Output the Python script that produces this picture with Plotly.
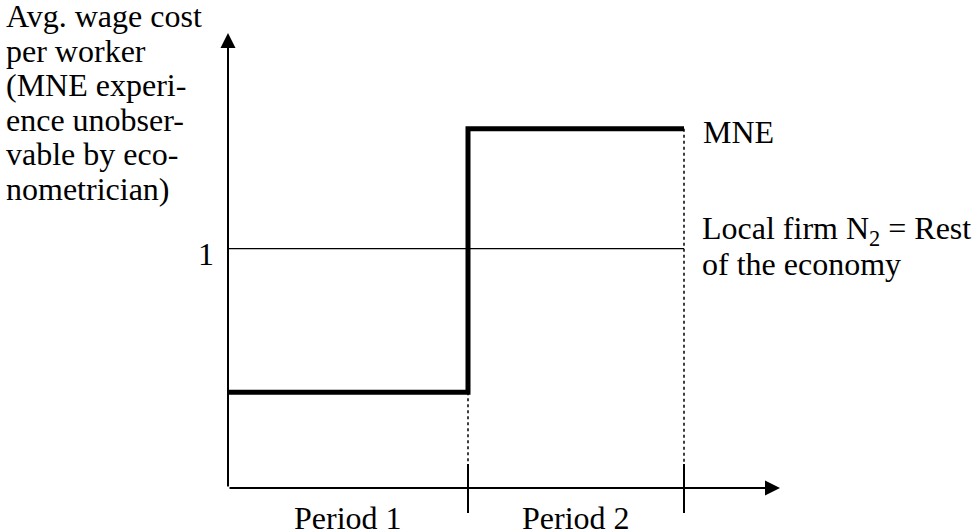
import plotly.graph_objects as go

# ---------------- data ----------------
periods = ["Period 1", "Period 2"]
period_bounds = [0, 10, 19]          # start, switch point, end of period 2
mne_wage = [0.4, 1.5]                # MNE avg. wage cost: period 1, period 2
local_wage = [1.0, 1.0]              # local firm N2 = rest of the economy
y_tick_vals = [1]
y_tick_text = ["1"]
x_axis_end = 23
y_axis_end = 1.9
y_title_lines = ["Avg. wage cost", "per worker", "(MNE experi-",
                 "ence unobser-", "vable by eco-", "nometrician)"]
mne_label = "MNE"
local_label_lines = ["Local firm N<sub>2</sub> = Rest", "of the economy"]

# ---------------- layout geometry ----------------
W, H = 974, 531
ML = 228
MT = 33
MR = W - 780
MB = 0
PW, PH = W - ML - MR, H - MT - MB
px_per_unit_y = (488 - 33) / y_axis_end
y_min = y_axis_end - PH / px_per_unit_y
tick_up = 24 / px_per_unit_y
tick_down = 25 / px_per_unit_y

def px_x(px):
    return (px - ML) / PW

def px_y(py):
    return (H - MB - py) / PH

FS = 32
FONT = dict(family="Liberation Serif, Times New Roman, serif", size=FS, color="black")

t0, t1, t2 = period_bounds
fig = go.Figure()

# local firm line
fig.add_trace(go.Scatter(x=[t0, t2], y=local_wage, mode="lines",
                         line=dict(color="black", width=1.3), hoverinfo="skip"))
# MNE step line
fig.add_trace(go.Scatter(x=[t0, t1, t2], y=[mne_wage[0], mne_wage[1], mne_wage[1]],
                         mode="lines", line=dict(color="black", width=5, shape="hv"),
                         hoverinfo="skip"))
# dotted guides
fig.add_trace(go.Scatter(x=[t1, t1, None, t2, t2],
                         y=[mne_wage[0], tick_up, None, mne_wage[1], tick_up],
                         mode="lines", line=dict(color="black", width=1.5, dash="dot"),
                         hoverinfo="skip"))
# period ticks
fig.add_trace(go.Scatter(x=[t1, t1, None, t2, t2],
                         y=[tick_up, -tick_down, None, tick_up, -tick_down],
                         mode="lines", line=dict(color="black", width=2),
                         hoverinfo="skip"))

annotations = []
# axes with arrowheads
annotations.append(dict(x=x_axis_end, y=0, ax=0, ay=0, xref="x", yref="y",
                        axref="x", ayref="y", text="", showarrow=True,
                        arrowhead=2, arrowsize=1.5, arrowwidth=2, arrowcolor="black"))
annotations.append(dict(x=0, y=y_axis_end, ax=0, ay=0, xref="x", yref="y",
                        axref="x", ayref="y", text="", showarrow=True,
                        arrowhead=2, arrowsize=1.5, arrowwidth=2, arrowcolor="black"))
# y tick label
for v, t in zip(y_tick_vals, y_tick_text):
    annotations.append(dict(x=0, y=v, xref="x", yref="y", text=t, showarrow=False,
                            xanchor="right", yanchor="middle", xshift=-12, yshift=-5,
                            font=FONT))
# period labels
for i, p in enumerate(periods):
    annotations.append(dict(x=(period_bounds[i] + period_bounds[i + 1]) / 2,
                            y=px_y(518), xref="x", yref="paper", text=p,
                            showarrow=False, xanchor="center", yanchor="middle",
                            font=FONT))
# y title lines
for i, line in enumerate(y_title_lines):
    annotations.append(dict(x=px_x(4), y=px_y(16 + 34.5 * i), xref="paper", yref="paper",
                            text=line, showarrow=False, xanchor="left",
                            yanchor="middle", font=FONT))
# right-hand labels
annotations.append(dict(x=px_x(701), y=px_y(132), xref="paper", yref="paper",
                        text=mne_label, showarrow=False, xanchor="left",
                        yanchor="middle", font=FONT))
for i, line in enumerate(local_label_lines):
    annotations.append(dict(x=px_x(700), y=px_y(231 + 33 * i), xref="paper", yref="paper",
                            text=line, showarrow=False, xanchor="left",
                            yanchor="middle", font=FONT))

fig.update_layout(
    width=W, height=H,
    margin=dict(l=ML, r=MR, t=MT, b=MB, pad=0),
    paper_bgcolor="white", plot_bgcolor="white",
    showlegend=False,
    xaxis=dict(range=[0, x_axis_end], visible=False, fixedrange=True),
    yaxis=dict(range=[y_min, y_axis_end], visible=False, fixedrange=True),
    annotations=annotations,
)

fig.write_html(
    "out.html",
    config={"displayModeBar": False},
    post_script="document.body.style.margin='0';document.body.style.overflow='hidden';",
)
